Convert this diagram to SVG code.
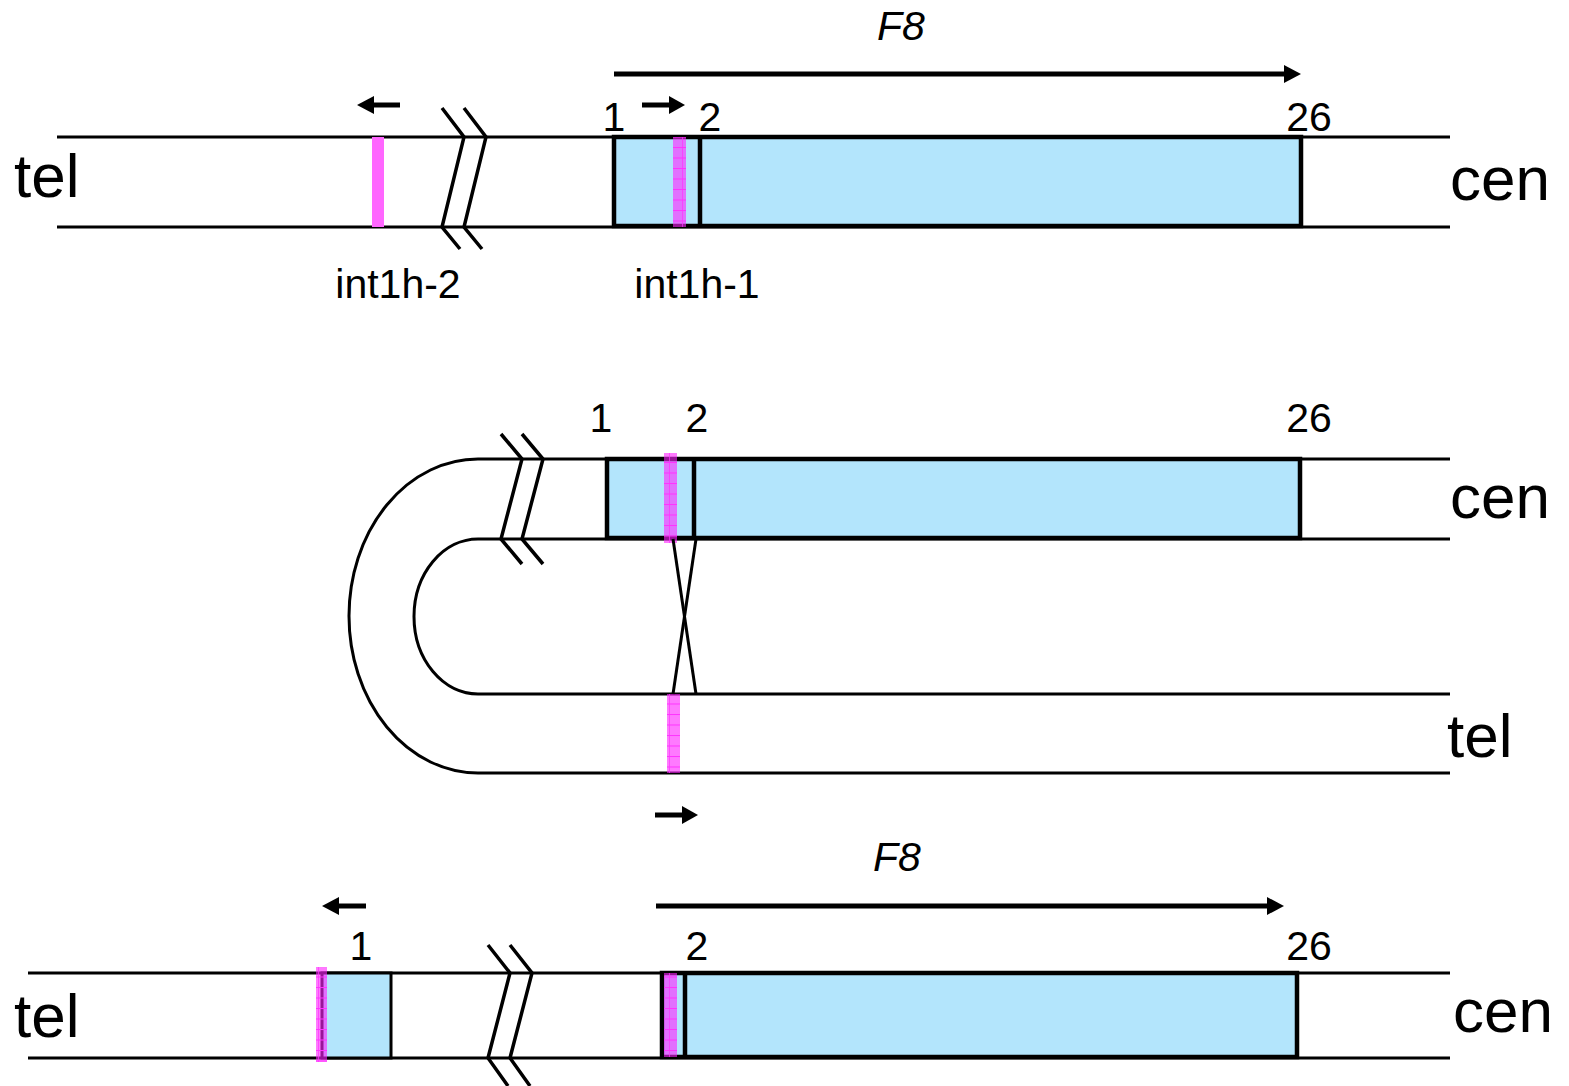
<svg xmlns="http://www.w3.org/2000/svg" width="1569" height="1086" viewBox="0 0 1569 1086">
<style>
.ln{stroke:#000;stroke-width:3;fill:none}
.brk{stroke:#000;stroke-width:3.5;fill:none}
.ex{fill:#B3E5FC;stroke:#000;stroke-width:4.5}
.ex3{fill:#B3E5FC;stroke:#000;stroke-width:3}
.dv{stroke:#000;stroke-width:4.5}
.sh{stroke:#000;stroke-width:5}
.hd{fill:#000}
.big{font-family:"Liberation Sans",Arial,sans-serif;font-size:62px;fill:#000}
.num{font-family:"Liberation Sans",Arial,sans-serif;font-size:41px;fill:#000;text-anchor:middle}
.lab{font-family:"Liberation Sans",Arial,sans-serif;font-size:41px;fill:#000;text-anchor:middle}
.gene{font-family:"Liberation Sans",Arial,sans-serif;font-size:41px;font-style:italic;fill:#000;text-anchor:middle}
.mag{fill:#FF66FF}
.ov{fill:#FF22FF;fill-opacity:0.6}
</style>
<defs>
<pattern id="grid" patternUnits="userSpaceOnUse" width="13" height="10.5">
<line x1="0" y1="0.5" x2="13" y2="0.5" stroke="#FF33FF" stroke-width="1"/>
<line x1="6.5" y1="0" x2="6.5" y2="10.5" stroke="#FF33FF" stroke-width="1" stroke-opacity="0.7"/>
</pattern>
</defs>

<!-- Panel 1 -->
<g id="panel1">
<g id="p1-strand">
<line class="ln" x1="57" y1="137" x2="1450" y2="137"/>
<line class="ln" x1="57" y1="227" x2="1450" y2="227"/>
</g>
<g id="p1-break">
<polyline class="brk" points="442,108 464,137 442,227 460,249"/>
<polyline class="brk" points="464,108 486,137 464,227 482,249"/>
</g>
<g id="p1-exon">
<rect class="ex" x="614" y="137" width="687" height="89"/>
<line class="dv" x1="700" y1="137" x2="700" y2="226"/>
</g>
<g id="p1-int1h2"><rect class="mag" x="372" y="137" width="12" height="90"/></g>
<g id="p1-int1h1">
<rect class="ov" x="673" y="137" width="13" height="90"/>
<rect fill="url(#grid)" x="673" y="137" width="13" height="90"/>
</g>
<text class="big" x="14" y="197">tel</text>
<text class="big" x="1450" y="200">cen</text>
<text class="num" x="614" y="131">1</text>
<text class="num" x="710" y="131">2</text>
<text class="num" x="1309" y="131">26</text>
<text class="lab" x="398" y="298">int1h-2</text>
<text class="lab" x="697" y="298">int1h-1</text>
<text class="gene" x="901" y="40">F8</text>
</g>

<!-- Panel 2 -->
<g id="panel2">
<g id="p2-strand">
<path class="ln" d="M1450,459 L478,459 A129,157 0 0 0 478,773 L1450,773"/>
<path class="ln" d="M1450,539 L478,539 A64,77.5 0 0 0 478,694 L1450,694"/>
</g>
<g id="p2-break">
<polyline class="brk" points="501,434 522,459 501,539 522,564"/>
<polyline class="brk" points="522,434 543,459 522,539 543,564"/>
</g>
<g id="p2-exon">
<rect class="ex" x="607" y="459" width="693" height="79"/>
<line class="dv" x1="694" y1="459" x2="694" y2="538"/>
</g>
<g id="p2-int1h1">
<rect class="ov" x="664" y="453" width="13" height="90"/>
<rect fill="url(#grid)" x="664" y="453" width="13" height="90"/>
</g>
<g id="p2-int1h2">
<rect class="ov" x="667" y="694" width="13" height="79"/>
<rect fill="url(#grid)" x="667" y="694" width="13" height="79"/>
</g>
<text class="big" x="1450" y="518">cen</text>
<text class="big" x="1447" y="757">tel</text>
<text class="num" x="601" y="432">1</text>
<text class="num" x="697" y="432">2</text>
<text class="num" x="1309" y="432">26</text>
</g>

<!-- Panel 3 -->
<g id="panel3">
<g id="p3-strand">
<line class="ln" x1="28" y1="973" x2="1450" y2="973"/>
<line class="ln" x1="28" y1="1058" x2="1450" y2="1058"/>
</g>
<g id="p3-break">
<polyline class="brk" points="488,945 510,973 488,1058 508,1086"/>
<polyline class="brk" points="510,945 532,973 510,1058 530,1086"/>
</g>
<g id="p3-exon1">
<rect class="ex3" x="322" y="973" width="69" height="85"/>
</g>
<g id="p3-exons">
<rect class="ex" x="662" y="973" width="635" height="84"/>
<line class="dv" x1="685" y1="973" x2="685" y2="1057"/>
</g>
<g id="p3-mag1">
<rect class="ov" x="316" y="967" width="11" height="95"/>
<rect fill="url(#grid)" x="316" y="967" width="11" height="95"/>
</g>
<g id="p3-mag2">
<rect class="ov" x="664" y="973" width="13" height="84"/>
<rect fill="url(#grid)" x="664" y="973" width="13" height="84"/>
</g>
<text class="big" x="14" y="1037">tel</text>
<text class="big" x="1453" y="1032">cen</text>
<text class="num" x="361" y="960">1</text>
<text class="num" x="697" y="960">2</text>
<text class="num" x="1309" y="960">26</text>
<text class="gene" x="897" y="871">F8</text>
</g>

<!-- Arrows -->
<g id="connectors">
<line class="sh" x1="614" y1="74" x2="1286" y2="74"/>
<polygon class="hd" points="1284,65 1301,74 1284,83"/>
<line class="sh" x1="400" y1="105" x2="370" y2="105"/>
<polygon class="hd" points="374,96 357,105 374,114"/>
<line class="sh" x1="642" y1="105" x2="672" y2="105"/>
<polygon class="hd" points="669,96 685,105 669,114"/>
<line class="sh" x1="655" y1="815" x2="685" y2="815"/>
<polygon class="hd" points="682,806 698,815 682,824"/>
<line class="sh" x1="656" y1="906" x2="1269" y2="906"/>
<polygon class="hd" points="1267,897 1284,906 1267,915"/>
<line class="sh" x1="366" y1="906" x2="336" y2="906"/>
<polygon class="hd" points="339,897 322,906 339,915"/>
<line class="ln" x1="673" y1="539" x2="696" y2="694"/>
<line class="ln" x1="696" y1="539" x2="673" y2="694"/>
</g>
</svg>
